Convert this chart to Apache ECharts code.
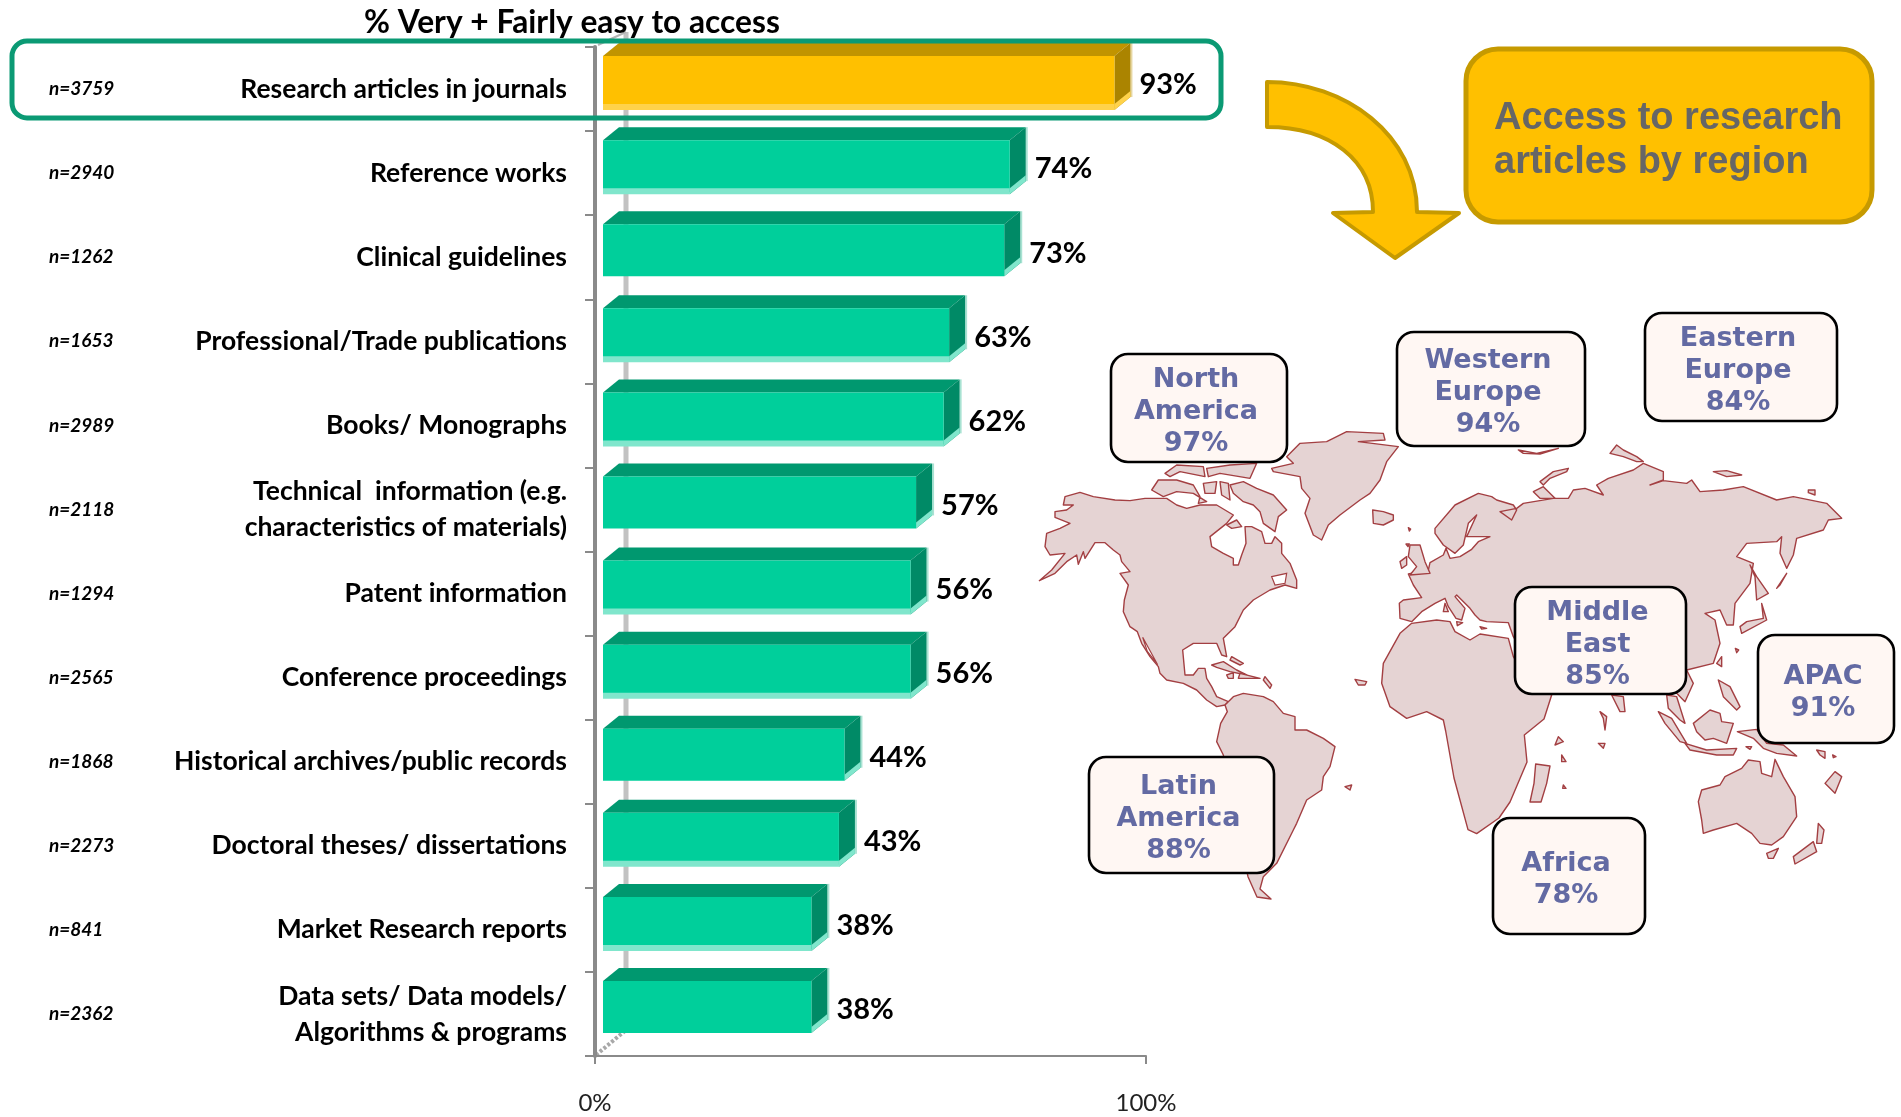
<!DOCTYPE html>
<html>
<head>
<meta charset="utf-8">
<title>Access to content types</title>
<style>
  html, body { margin: 0; padding: 0; background: #fff; }
  #chart { width: 1901px; height: 1117px; }
</style>
<script src="https://cdn.jsdelivr.net/npm/echarts@6/dist/echarts.min.js"></script>
</head>
<body>
<div id="chart"></div>
<script>
// chart data
const categories = [
  'Research articles in journals', 'Reference works', 'Clinical guidelines',
  'Professional/Trade publications', 'Books/ Monographs',
  'Technical  information (e.g.\ncharacteristics of materials)',
  'Patent information', 'Conference proceedings',
  'Historical archives/public records', 'Doctoral theses/ dissertations',
  'Market Research reports', 'Data sets/ Data models/\nAlgorithms & programs'
]
const sampleSizes = ['n=3759', 'n=2940', 'n=1262', 'n=1653', 'n=2989', 'n=2118', 'n=1294', 'n=2565', 'n=1868', 'n=2273', 'n=841', 'n=2362']
const easyAccess = [93, 74, 73, 63, 62, 57, 56, 56, 44, 43, 38, 38]
// bars showing the pale strip along the bottom edge
const stripRows = [0, 1, 3, 4, 6, 7, 9, 10]

const regionLines = [
  ['North', 'America'], ['Western', 'Europe'], ['Eastern', 'Europe'], ['Middle', 'East'],
  ['APAC'], ['Latin', 'America'], ['Africa']
]
const regionAccess = [97, 94, 84, 85, 91, 88, 78]
// x, y, width, height of each callout
const regionBoxes = [
  [1111, 354, 176, 108], [1397, 332, 188, 114], [1645, 313, 192, 108], [1515, 587, 171, 107],
  [1758, 635, 136, 108], [1089, 757, 185, 116], [1493, 818, 152, 116]
]

const landA = [
  [[28,452],[75,430],[110,395],[140,375],[145,403],[160,365],[165,385],[195,338],[225,338],[250,360],[270,375],[275,395],[300,425],[270,430],[295,465],[283,510],[280,545],[300,590],[322,605],[335,640],[360,680],[385,710],[390,730],[410,750],[460,760],[500,780],[530,810],[560,830],[585,825],[595,815],[560,800],[545,770],[530,745],[525,715],[505,715],[490,735],[465,735],[458,660],[490,640],[560,640],[575,675],[590,680],[580,625],[615,590],[640,540],[670,510],[720,480],[765,465],[800,475],[800,450],[780,400],[755,370],[755,340],[735,320],[725,340],[705,340],[695,305],[665,290],[645,290],[648,340],[635,375],[625,405],[610,405],[610,385],[580,370],[545,350],[540,320],[590,280],[610,255],[560,225],[510,225],[470,235],[440,225],[410,205],[345,205],[300,212],[255,210],[190,200],[150,187],[105,200],[100,225],[130,225],[110,240],[75,245],[75,262],[120,280],[90,295],[50,310],[45,350],[60,375],[105,370],[65,420]],
  [[640,215],[610,190],[600,165],[640,155],[680,175],[730,195],[770,240],[745,260],[735,305],[700,280],[690,245],[670,225]],
  [[365,180],[385,150],[440,150],[490,165],[510,200],[505,220],[530,215],[490,190],[440,185],[400,200]],
  [[520,160],[560,155],[555,190],[525,190]],
  [[570,155],[595,160],[600,210],[575,195]],
  [[405,130],[440,105],[520,110],[525,140],[450,125],[420,140]],
  [[530,115],[600,105],[680,100],[660,145],[570,130],[535,140]],
  [[590,285],[620,270],[635,290],[605,295]],
  [[725,115],[790,100],[770,80],[810,40],[890,35],[950,5],[1060,10],[1065,30],[985,35],[1105,50],[1070,95],[1050,150],[1020,190],[990,210],[930,255],[895,285],[875,330],[850,315],[825,250],[840,205],[815,175],[810,140],[730,125]],
  [[1028,240],[1060,245],[1090,255],[1090,270],[1060,285],[1030,280]],
  [[585,825],[610,800],[640,790],[700,800],[730,815],[760,850],[795,860],[795,900],[830,900],[880,925],[915,950],[900,1010],[880,1040],[875,1080],[830,1110],[800,1180],[790,1200],[740,1300],[700,1340],[690,1377],[723,1407],[681,1401],[654,1340],[600,1100],[580,975],[560,935],[572,880],[592,845]],
  [[545,705],[580,695],[620,720],[650,735],[600,725],[560,712]],
  [[590,735],[610,728],[610,745],[595,745]],
  [[630,730],[690,745],[650,745],[625,745]],
  [[605,680],[640,700],[630,705],[600,690]],
  [[705,740],[725,765],[720,775],[700,750]],
  [[975,748],[1010,755],[1005,765],[985,765]],
  [[945,1070],[965,1065],[960,1080]]
]
const landB = [
  [[60,565],[58,520],[70,510],[125,503],[100,465],[85,432],[145,420],[150,398],[190,375],[198,355],[210,385],[240,380],[275,358],[295,335],[330,320],[280,320],[260,320],[290,255],[265,280],[250,345],[225,370],[190,345],[165,310],[165,295],[225,225],[295,190],[335,200],[350,210],[400,225],[410,240],[395,270],[360,245],[410,235],[430,220],[520,205],[565,205],[580,180],[615,175],[670,195],[650,165],[685,145],[760,120],[790,100],[850,125],[850,150],[810,165],[850,152],[920,160],[935,150],[960,185],[1030,180],[1090,170],[1190,210],[1240,200],[1340,220],[1385,265],[1345,270],[1330,300],[1250,325],[1240,375],[1220,415],[1200,370],[1205,320],[1190,335],[1100,340],[1070,380],[1120,400],[1110,460],[1065,520],[1060,585],[1040,585],[1020,540],[975,550],[1005,570],[1020,640],[1000,700],[920,720],[940,760],[915,815],[890,790],[810,790],[500,790],[400,620],[385,578],[320,575],[300,570],[285,555],[270,535],[230,495],[225,500],[255,535],[245,570],[228,565],[205,530],[195,505],[165,520],[125,545],[95,575]],
  [[95,580],[170,570],[210,575],[225,605],[270,630],[300,612],[385,625],[400,680],[450,760],[515,795],[492,867],[433,915],[441,996],[390,1116],[357,1164],[290,1211],[264,1199],[222,1044],[197,903],[190,870],[140,845],[80,865],[30,830],[5,760],[10,700],[60,610]],
  [[467,1002],[510,1008],[500,1060],[483,1116],[450,1116],[462,1060]],
  [[415,60],[470,70],[535,55],[480,72],[430,70]],
  [[480,155],[520,125],[565,115],[560,125],[510,145],[490,165]],
  [[460,185],[490,170],[525,205],[480,205]],
  [[690,70],[710,45],[730,60],[770,80],[790,95],[770,95],[730,80]],
  [[1000,125],[1040,122],[1085,135],[1040,140]],
  [[1285,180],[1305,180],[1305,195],[1285,188]],
  [[90,345],[120,345],[135,395],[150,430],[90,435],[110,410],[85,380]],
  [[60,395],[80,380],[80,405],[65,415]],
  [[85,293],[92,297],[88,303]],
  [[78,342],[88,342],[84,350]],
  [[195,520],[205,545],[190,545]],
  [[230,575],[248,578],[232,587]],
  [[300,590],[320,595],[305,597]],
  [[1110,405],[1130,440],[1165,490],[1130,510],[1125,440]],
  [[1145,520],[1160,570],[1085,610],[1080,590],[1100,575],[1150,565]],
  [[1190,475],[1220,430],[1200,465]],
  [[1010,700],[1025,680],[1025,710]],
  [[1066,655],[1076,660],[1070,668]],
  [[695,795],[730,800],[735,845],[720,845]]
]
const landC = [
  [[380,45],[410,50],[435,130],[420,120],[385,85]],
  [[355,95],[395,115],[440,190],[420,185],[375,130]],
  [[435,190],[500,210],[590,205],[580,225],[530,225],[450,210]],
  [[460,130],[510,90],[540,100],[545,125],[580,130],[560,190],[520,175],[495,180],[470,155]],
  [[592,155],[650,148],[680,190],[730,195],[770,228],[710,220],[670,205],[640,175]],
  [[535,0],[570,20],[600,80],[590,90],[550,50]],
  [[475,365],[485,330],[540,315],[555,290],[605,265],[625,240],[660,245],[665,280],[695,290],[705,238],[730,290],[765,350],[770,410],[730,470],[695,495],[660,490],[635,460],[590,430],[520,450],[490,460],[485,420]],
  [[680,520],[715,505],[700,535],[685,535]],
  [[835,430],[852,450],[845,490],[830,490]],
  [[760,530],[820,485],[830,515],[765,552]],
  [[180,95],[200,110],[195,150],[190,115]],
  [[175,190],[195,190],[190,205]],
  [[55,170],[70,185],[45,195]],
  [[65,225],[78,245],[65,245]],
  [[70,315],[78,325],[68,325]],
  [[618,200],[635,200],[630,208]],
  [[830,210],[855,215],[855,235],[840,225]],
  [[878,225],[888,230],[880,233]],
  [[855,310],[885,275],[905,290],[885,340]]
]
// inland water left blank
const waterA = [
  [[725,440],[770,430],[765,460],[735,465]],
  [[338,622],[383,704],[352,664]]
]

const latoFont = 'Lato, "Open Sans", sans-serif'
const AXIS_GREY = '#8a8a8a'
const COAST = '#a33f42'

// the graphic component has no plain path type, so the arrow gets its own shape
echarts.graphic.registerShape('bentArrow', echarts.graphic.extendPath(
  'M1267 82 C1345 82 1417 135 1417 212 L1459 213 L1395 258 L1333 213 L1373 212 C1373 160 1330 127 1267 127 Z'
))

const crop = (ox, oy, shapes) => shapes.map(pts => pts.map(p => [ox + p[0] / 3, oy + p[1] / 3]))
const outlines = [...crop(1030, 430, landA), ...crop(1380, 430, landB), ...crop(1540, 680, landC)]

const mapShapes = outlines.map(points => ({
  type: 'polygon',
  z: 1,
  shape: { points },
  style: { fill: '#e5d3d3', stroke: COAST, lineWidth: 1.4, lineJoin: 'round' }
})).concat(crop(1030, 430, waterA).map(points => ({
  type: 'polygon',
  z: 1,
  shape: { points },
  style: { fill: '#fff', stroke: COAST, lineWidth: 1.2 }
})))

const regionShapes = []
regionBoxes.forEach((b, i) => {
  regionShapes.push({
    type: 'rect',
    z: 5,
    shape: { x: b[0], y: b[1], width: b[2], height: b[3], r: 17 },
    style: { fill: '#fff7f3', stroke: '#000', lineWidth: 2.6 }
  })
  regionShapes.push({
    type: 'text',
    z: 6,
    x: b[0] + b[2] / 2 - 3,
    y: b[1] + b[3] / 2 + 4,
    style: {
      text: regionLines[i].concat(regionAccess[i] + '%').join('\n'),
      fill: '#636aa3',
      font: 'bold 27px "DejaVu Sans", sans-serif',
      lineHeight: 32,
      align: 'center',
      verticalAlign: 'middle'
    }
  })
})

// one 3D bar: front, top, side, pale strip and value label
function renderBar(params, api) {
  const i = api.value(1)
  const v = api.value(0)
  const mid = api.coord([0, i])[1]
  const left = api.coord([0, i])[0] + 8
  const right = api.coord([v, i])[0] + 7
  const top = mid - 33
  const bottom = mid + 19
  const dx = 16
  const dy = 13
  const gold = i === 0
  const front = gold ? '#ffc000' : '#00cf9b'
  const roof = gold ? '#c19400' : '#00986f'
  const side = gold ? '#ab8400' : '#008a66'
  const pale = gold ? '#ffd24a' : '#80e6cc'
  const halo = gold ? '#e6d6a0' : '#a8e2d2'
  const hasStrip = stripRows.includes(i)
  const low = hasStrip ? bottom + 2 : bottom
  const children = [
    { type: 'rect', shape: { x: right + dx, y: top - dy, width: 2, height: low - top }, style: { fill: halo } },
    { type: 'polygon', shape: { points: [[left, top], [left + dx, top - dy], [right + dx, top - dy], [right, top]] }, style: { fill: roof } },
    { type: 'polygon', shape: { points: [[right, top], [right + dx, top - dy], [right + dx, low - dy], [right, low]] }, style: { fill: side } },
    { type: 'polygon', shape: { points: [[right, low - 6], [right + dx, low - dy - 6], [right + dx, low - dy], [right, low]] }, style: { fill: pale } },
    { type: 'rect', shape: { x: left, y: top, width: right - left, height: bottom - top }, style: { fill: front } }
  ]
  if (hasStrip) {
    children.push({ type: 'rect', shape: { x: left, y: bottom - 4, width: right - left, height: 6 }, style: { fill: pale } })
  }
  children.push({
    type: 'text',
    x: right + 25,
    y: mid - 4,
    style: { text: v + '%', fill: '#000', font: 'bold 29px ' + latoFont, align: 'left', verticalAlign: 'middle' }
  })
  return { type: 'group', children }
}

const chart = echarts.init(document.getElementById('chart'))
const option = {
  animation: false,
  backgroundColor: '#fff',
  title: {
    text: '% Very + Fairly easy to access',
    left: 359,
    top: 2,
    textStyle: { fontFamily: latoFont, fontWeight: 'bold', fontSize: 31.7, color: '#000' }
  },
  grid: { left: 595, top: 47, width: 551, height: 1009 },
  xAxis: {
    type: 'value',
    min: 0,
    max: 100,
    interval: 100,
    splitLine: { show: false },
    axisLine: { show: true, lineStyle: { color: AXIS_GREY, width: 2 } },
    axisTick: { show: true, length: 8, lineStyle: { color: AXIS_GREY, width: 2 } },
    axisLabel: { margin: 35, fontFamily: latoFont, fontSize: 24, color: '#222', formatter: '{value}%' }
  },
  yAxis: [
    {
      type: 'category',
      inverse: true,
      data: categories,
      axisLine: { show: true, lineStyle: { color: AXIS_GREY, width: 4 } },
      axisTick: { show: true, length: 10, lineStyle: { color: AXIS_GREY, width: 2 } },
      axisLabel: { margin: 28, fontFamily: latoFont, fontWeight: 'bold', fontSize: 26.5, lineHeight: 36, color: '#000', align: 'right', interval: 0, padding: [7, 0, 0, 0] }
    },
    {
      type: 'category',
      inverse: true,
      position: 'left',
      data: sampleSizes,
      axisLine: { show: false },
      axisTick: { show: false },
      axisLabel: { margin: 546, fontFamily: latoFont, fontWeight: 'bold', fontStyle: 'italic', fontSize: 19, color: '#000', align: 'left', interval: 0 }
    }
  ],
  series: [{
    type: 'custom',
    clip: false,
    encode: { x: 0, y: 1 },
    data: easyAccess.map((v, i) => [v, i]),
    renderItem: renderBar
  }],
  graphic: [
    // back wall of the 3D plot
    { type: 'line', z: 0, shape: { x1: 626, y1: 32, x2: 626, y2: 1030 }, style: { stroke: '#c2c2c2', lineWidth: 5 } },
    { type: 'line', z: 0, shape: { x1: 598, y1: 45, x2: 626, y2: 32 }, style: { stroke: '#b5b5b5', lineWidth: 2 } },
    { type: 'line', z: 0, shape: { x1: 596, y1: 1055, x2: 626, y2: 1030 }, style: { stroke: '#a8a8a8', lineWidth: 4, lineDash: [3, 2] } },
    // highlight round the first row
    { type: 'rect', z: 10, shape: { x: 12, y: 41, width: 1209, height: 77, r: 15 }, style: { fill: 'transparent', stroke: '#0b9a74', lineWidth: 5 } },
    // arrow and heading of the map
    { type: 'bentArrow', z: 3, shape: {}, style: { fill: '#ffc000', stroke: '#c69a00', lineWidth: 4, lineJoin: 'round' } },
    { type: 'rect', z: 3, shape: { x: 1466, y: 49, width: 406, height: 173, r: 32 }, style: { fill: '#ffc000', stroke: '#c69a00', lineWidth: 5 } },
    {
      type: 'text',
      z: 4,
      x: 1494,
      y: 141,
      style: { text: 'Access to research\narticles by region', fill: '#666', font: 'bold 38px "Liberation Sans", sans-serif', lineHeight: 44, align: 'left', verticalAlign: 'middle' }
    },
    ...mapShapes,
    ...regionShapes
  ]
}
chart.setOption(option)
</script>
</body>
</html>
